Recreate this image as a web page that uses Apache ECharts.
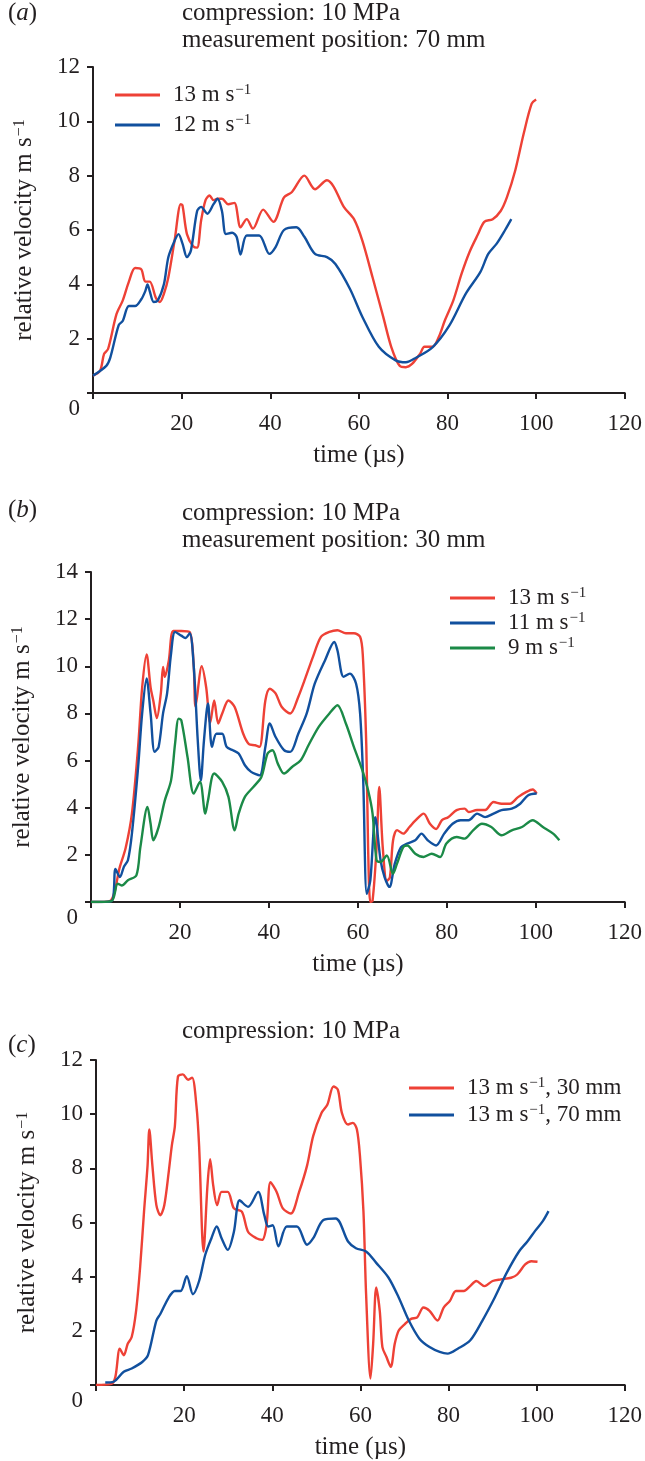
<!DOCTYPE html>
<html>
<head>
<meta charset="utf-8">
<script src="https://cdn.jsdelivr.net/npm/echarts@6/dist/echarts.min.js"></script>
<style>
html,body{margin:0;padding:0;background:#fff;}
#chart{width:645px;height:1461px;}
</style>
</head>
<body>
<div id="chart"></div>
<script>
// ---------- data ----------
// panel (a): compression 10 MPa, 70 mm
const aRedT = [0,1.6,2.5,3.4,5.3,6.7,8.1,9.5,10.9,11.8,12.8,14.2,15.1,16,17,18.4,19.8,20.2,21.2,22.6,23.5,24.4,25.4,26.3,27.2,28.1,29.1,30.5,31.9,33.3,34.7,36.1,38.4,40.7,43.1,44.9,47.7,50.1,52.8,54.3,56.6,58.9,60.8,63.1,65.5,67.3,69.2,70.6,72,73.8,74.8,76.6,78,79.4,81.3,83.2,85,86.9,88.3,90.2,92,93.4,95.3,97.2,99,100];
const aRedV = [0.64,0.82,1.44,1.62,2.9,3.4,4.1,4.6,4.55,4.1,4.1,3.5,3.35,3.65,4.25,5.6,6.95,6.9,5.85,5.4,5.35,6.35,7.1,7.27,7.1,7.15,7.15,6.95,7.0,6.1,6.4,6.05,6.75,6.3,7.2,7.4,8.0,7.5,7.83,7.6,6.85,6.4,5.6,4.25,2.8,1.7,1.0,0.95,1.07,1.44,1.7,1.7,2.05,2.67,3.4,4.4,5.2,5.85,6.3,6.4,6.7,7.2,8.2,9.55,10.65,10.8];
const aBlueT = [0,3,3.9,5.8,6.7,8.1,9.5,10.9,11.8,12.3,12.8,13.7,14.6,16,17,18.4,19.3,20.2,21.2,22.1,23.5,24.4,25.8,27.2,28.1,29.1,30,31.4,32.4,33.3,34.7,37.5,39.8,41.2,43.1,45.9,47.7,50.1,52.8,54.7,58,60.8,64.5,68.3,70.6,72.9,76.6,80.4,84.1,87.4,89.2,91.1,93,94.4];
const aBlueV = [0.64,1.0,1.3,2.5,2.65,3.2,3.2,3.45,3.75,4.0,3.75,3.35,3.4,4.0,5.0,5.6,5.85,5.5,5.0,5.25,6.7,6.85,6.6,6.95,7.15,6.7,5.85,5.9,5.75,5.1,5.8,5.8,5.12,5.37,6.0,6.1,5.75,5.12,5.0,4.75,3.83,2.8,1.7,1.2,1.13,1.3,1.68,2.48,3.65,4.45,5.12,5.5,6.0,6.4];

// panel (b): compression 10 MPa, 30 mm
const bRedT = [0,4.2,6.5,7.8,9.2,10.6,11.5,12.5,13.4,14,14.8,15.7,16.2,16.6,17.5,18.5,20.3,22.2,23.1,23.5,24.9,25.9,26.8,27.7,28.6,29.5,30.9,32.3,34.2,35.5,36.9,37.9,39.2,40.2,41.5,42.9,44.8,46.6,48,49.9,51.7,53.6,55.4,57.3,59.1,60.5,61.1,61.9,62.3,62.8,63.3,64.2,64.8,65.6,66.5,67.2,67.9,68.8,70.2,71.6,72.9,74.8,76.2,77.6,78.9,80.3,82.2,84,84.9,86.8,88.6,90.5,92.3,94.2,96,97.9,99.3,100.2];
const bRedV = [0,0.04,1.5,2.3,3.75,6.6,9.1,10.5,9.1,8.55,7.8,8.85,9.97,9.55,10.25,11.5,11.5,11.45,10,8.3,10,9.1,7.6,8.55,7.57,8.0,8.55,8.27,7.15,6.7,6.65,6.58,8.55,9.05,8.85,8.27,8.0,8.7,9.4,10.4,11.25,11.46,11.53,11.4,11.4,11.25,10.5,6.6,2.3,0,0.05,2.3,4.88,2.3,0.9,1.05,2.6,3.05,2.9,3.18,3.45,3.75,3.32,3.1,3.47,3.6,3.9,3.96,3.82,3.9,3.9,4.24,4.17,4.17,4.45,4.67,4.77,4.6];
const bBlueT = [0,4.6,5.5,6.5,7.4,8.3,9.2,10.6,11.5,12.5,13.4,14.3,15.2,16.2,17.1,18,18.9,20.3,21.2,22.2,23.1,24,24.7,25.4,26.3,27.2,28.2,29.5,30.5,31.9,33.2,34.6,36,37.9,39.2,40.2,41.5,43.4,44.8,46.6,48.5,50.3,52.6,54.7,55.4,56.8,58.2,59.6,60.5,61.2,62,62.8,63.9,65.1,66,67.1,68.3,69.7,71.1,72.9,74.3,75.7,77.6,79.4,81.3,83.1,84.9,86.8,88.6,90.5,92.3,94.6,96.5,98.3,100.2];
const bBlueV = [0,0.04,1.4,1.06,1.5,1.77,2.9,5.73,8.0,9.48,8.0,6.37,6.58,8.0,8.84,10.54,11.46,11.3,11.2,11.4,10,6.86,5.16,6.86,8.42,6.58,7.14,7.14,6.58,6.44,6.3,5.8,5.52,5.37,6.58,7.57,7.0,6.44,6.37,7.14,8.0,9.26,10.25,11.03,10.68,9.55,9.69,9.26,8.0,5.16,0.35,0.92,3.6,1.77,1.06,0.64,1.63,2.33,2.48,2.62,2.9,2.62,2.4,2.9,3.32,3.47,3.47,3.75,3.6,3.75,3.9,3.96,4.17,4.53,4.6];
const bGreenT = [0,4.6,6,6.9,8.3,10.2,11.1,12.7,13.4,14,15.2,16.6,18,18.9,19.7,20.3,21.7,23.1,24.5,25.7,26.3,27.7,29.5,30.9,32.3,33.2,34.6,36.5,38.3,39.7,40.8,42,43.4,45.2,47.1,48.9,51.2,53.6,55.4,57.3,59.1,61,62.3,63.3,64.2,65.1,66.5,67.9,68.8,70.2,71.1,72.9,74.8,76.6,78.5,79.9,82.2,84,85.9,87.9,90,92.3,94.6,96.9,99.3,101.6,103.9,105.3];
const bGreenV = [0,0.04,0.78,0.7,0.92,1.13,2.33,4.03,3.32,2.62,3.18,4.31,5.16,6.72,7.78,7.71,6.15,4.6,5.1,3.75,4.31,5.45,5.1,4.46,3.04,3.75,4.46,4.88,5.3,6.3,6.44,5.87,5.45,5.73,6.0,6.65,7.43,8.0,8.35,7.57,6.58,5.59,4.74,3.75,1.77,1.7,1.98,1.2,1.63,2.33,2.4,2.05,1.91,2.05,1.91,2.48,2.76,2.69,3.04,3.32,3.18,2.83,3.04,3.18,3.47,3.18,2.9,2.62];

// panel (c): compression 10 MPa, 13 m/s at 30 mm and 70 mm
const cRedT = [0,3.5,4.4,5.4,6.3,7.2,8.1,9.1,10,10.9,11.7,12.1,12.8,13.7,14.6,15.5,16.5,17.2,17.9,18.6,19.7,20.9,21.8,22.8,23.4,24.4,25.3,25.9,26.6,27.5,28.5,29.9,31.3,33.1,34.5,36.4,37.7,38.7,39.6,41,42.4,44.2,46.1,47.9,49.3,51.2,52.5,53.9,54.9,55.8,57.2,58.3,59.2,59.9,60.7,61.3,62.3,62.9,63.6,64.4,65,65.9,66.9,67.8,68.7,70.1,71.5,72.9,74.3,75.7,77.5,78.9,80.3,81.7,83.5,84.9,86.3,88.2,90,91.9,94.2,95.6,97.4,98.8,100.2];
const cRedV = [0,0.04,0.3,1.34,1.1,1.52,1.77,2.74,4.32,6.4,8.1,9.44,8.1,6.64,6.27,6.64,7.86,8.83,9.56,11.39,11.47,11.27,11.35,10.3,8.83,4.93,7.37,8.34,7.37,6.64,7.13,7.13,6.52,6.4,5.66,5.42,5.36,5.9,7.49,7.13,6.52,6.33,7.13,8.1,9.2,10.05,10.35,11.02,10.9,10.05,9.62,9.68,9.44,8.47,6.4,3.35,0.24,1.52,3.6,2.74,1.4,1.04,0.67,1.52,2.01,2.25,2.44,2.5,2.86,2.74,2.38,2.86,3.1,3.47,3.47,3.65,3.84,3.65,3.84,3.9,3.96,4.08,4.45,4.57,4.55];
const cBlueT = [2.1,4,6.3,8.1,10.5,11.8,13.7,14.6,16.5,17.9,19.2,20.6,22,23.4,24.8,26.2,27.4,28.5,29.9,31.3,32.6,34.5,36.8,38.2,39.1,40.1,41.4,43.3,45.6,47.9,49.3,51.6,54.4,57.2,59,61.3,63.6,66.4,68.7,71,73.4,75.7,78,79.8,82.1,84.9,87.7,90.5,93.2,96,97.9,99.7,101.4,102.7];
const cBlueV = [0.09,0.12,0.49,0.61,0.85,1.1,2.38,2.62,3.23,3.47,3.47,4.02,3.35,3.84,4.81,5.42,5.85,5.42,4.99,5.66,6.82,6.58,7.13,6.27,5.85,5.9,5.12,5.85,5.85,5.18,5.42,6.09,6.15,5.3,5.05,4.93,4.51,3.96,3.23,2.38,1.71,1.4,1.22,1.16,1.34,1.64,2.38,3.23,4.14,4.93,5.3,5.7,6.05,6.42];

const xTicks = {min: 0, max: 120, interval: 20};
const yMaxA = 12, yMaxB = 14, yMaxC = 12, yStep = 2;

const nameA = ['13 m s-1', '12 m s-1'];
const nameB = ['13 m s-1 ', '11 m s-1', '9 m s-1'];
const nameC = ['13 m s-1, 30 mm', '13 m s-1, 70 mm'];

// ---------- styling ----------
const RED = '#ee4136', BLUE = '#11509e', GREEN = '#1b8a47';
const FONT = '"Liberation Serif", "Times New Roman", serif';
const TXT = '#231f20';
const FS = 23;      // tick labels, legend
const FT = 25;      // titles, axis names
const rich = {
  sup: {fontSize: 15, lineHeight: 15, fontFamily: FONT, color: TXT, padding: [0, 0, 9, 1]},
  supL: {fontSize: 16, lineHeight: 16, fontFamily: FONT, color: TXT, padding: [0, 0, 10, 1]},
  it: {fontSize: FT, fontFamily: FONT, color: TXT, fontStyle: 'italic'},
  z: {fontSize: FS, fontFamily: FONT, color: TXT, padding: [32, 0, 0, 0]}
};
const supFmt = s => s.trim().replace('-1', '{sup|\u22121}');

const grids = [
  {left: 93, right: 19, top: 67, height: 326},
  {left: 91, right: 17, top: 572, height: 330},
  {left: 96, right: 13, top: 1060, height: 328}
];

function xAxis(i) {
  return {
    type: 'value', gridIndex: i, min: xTicks.min, max: xTicks.max, interval: xTicks.interval,
    name: 'time (\u00b5s)', nameLocation: 'middle', nameGap: 50,
    nameTextStyle: {fontFamily: FONT, fontSize: FT, color: TXT},
    axisLine: {show: true, lineStyle: {color: '#231f20', width: 2}},
    axisTick: {show: true, length: 6, lineStyle: {color: '#231f20', width: 2}},
    axisLabel: {fontFamily: FONT, fontSize: FS, color: TXT, margin: 19,
      formatter: v => v === 0 ? '' : String(v)},
    splitLine: {show: false}
  };
}
function yAxis(i, max) {
  return {
    type: 'value', gridIndex: i, min: 0, max: max, interval: yStep,
    name: 'relative velocity m s{supL|\u22121}', nameLocation: 'middle', nameGap: 56, nameRotate: 90,
    nameTextStyle: {fontFamily: FONT, fontSize: FT, color: TXT, rich: rich},
    axisLine: {show: true, lineStyle: {color: '#231f20', width: 2}},
    axisTick: {show: true, length: 6, lineStyle: {color: '#231f20', width: 2}},
    axisLabel: {fontFamily: FONT, fontSize: FS, color: TXT, margin: 13, rich: rich,
      formatter: v => v === 0 ? '{z|0}' : String(v)},
    splitLine: {show: false}
  };
}
function line(name, T, V, color, i) {
  return {
    type: 'line', name: name, xAxisIndex: i, yAxisIndex: i,
    data: T.map((t, k) => [t, V[k]]),
    showSymbol: false, symbol: 'none', smooth: 0.3,
    lineStyle: {color: color, width: 2.4}, itemStyle: {color: color},
    emphasis: {disabled: true}, animation: false
  };
}
function legend(names, left, top, gap) {
  return {
    data: names, left: left, top: top, orient: 'vertical', padding: 0,
    icon: 'rect', itemWidth: 45, itemHeight: 3, itemGap: gap,
    selectedMode: false,
    formatter: supFmt,
    textStyle: {fontFamily: FONT, fontSize: FS, color: TXT, lineHeight: 22, padding: [0, 0, 0, 8], rich: rich}
  };
}
function title(text, left, top) {
  return {text: text, left: left, top: top, padding: 0,
    textStyle: {fontFamily: FONT, fontSize: FT, fontWeight: 'normal', color: TXT, lineHeight: 27, rich: rich}};
}

const chart = echarts.init(document.getElementById('chart'), null, {renderer: 'canvas'});
chart.setOption({
  backgroundColor: '#fff',
  animation: false,
  title: [
    title('({it|a})', 8, 0),
    title('compression: 10 MPa\nmeasurement position: 70 mm', 182, 0),
    title('({it|b})', 8, 497),
    title('compression: 10 MPa\nmeasurement position: 30 mm', 182, 500),
    title('compression: 10 MPa', 182, 1018),
    title('({it|c})', 8, 1032)
  ],
  grid: grids,
  xAxis: [xAxis(0), xAxis(1), xAxis(2)],
  yAxis: [yAxis(0, yMaxA), yAxis(1, yMaxB), yAxis(2, yMaxC)],
  legend: [legend(nameA, 115, 83, 6), legend(nameB, 450, 586, 1), legend(nameC, 409, 1076, 3)],
  series: [
    line(nameA[0], aRedT, aRedV, RED, 0),
    line(nameA[1], aBlueT, aBlueV, BLUE, 0),
    line(nameB[0], bRedT, bRedV, RED, 1),
    line(nameB[1], bBlueT, bBlueV, BLUE, 1),
    line(nameB[2], bGreenT, bGreenV, GREEN, 1),
    line(nameC[0], cRedT, cRedV, RED, 2),
    line(nameC[1], cBlueT, cBlueV, BLUE, 2)
  ]
});
</script>
</body>
</html>
